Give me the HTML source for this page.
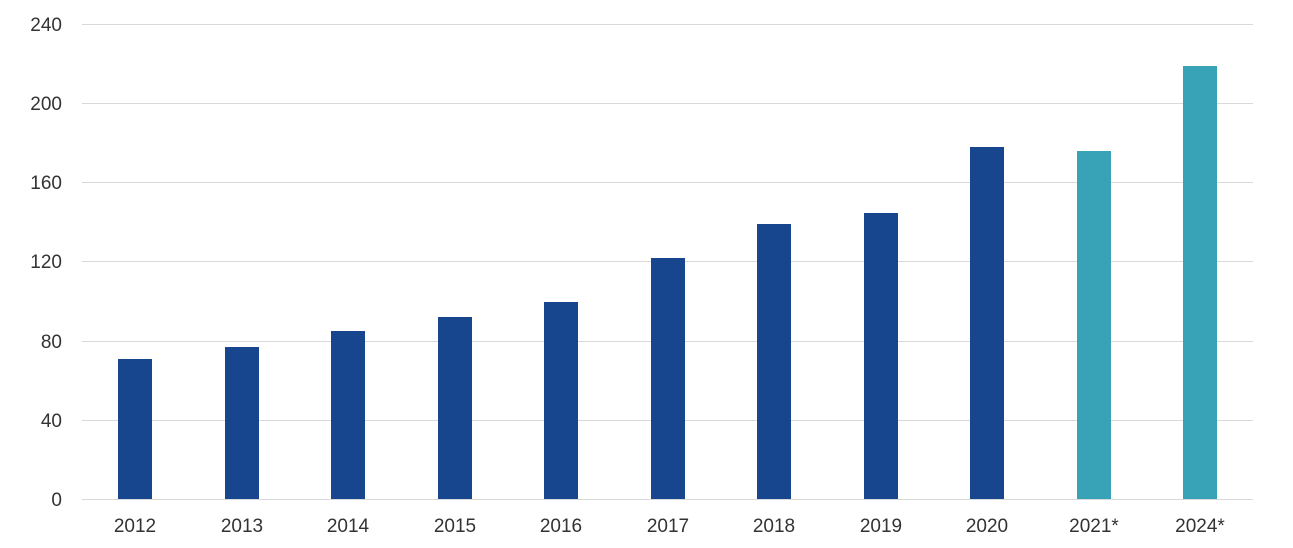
<!DOCTYPE html>
<html><head><style>
body{margin:0;background:#fff;}
svg text{font-family:"Liberation Sans",Arial,sans-serif;font-size:19px;fill:#333;}
</style></head><body>
<svg width="1293" height="543" xmlns="http://www.w3.org/2000/svg">
<g stroke="#d9d9d9" stroke-width="1">
<line x1="82" x2="1253" y1="24.5" y2="24.5"/>
<line x1="82" x2="1253" y1="103.5" y2="103.5"/>
<line x1="82" x2="1253" y1="182.5" y2="182.5"/>
<line x1="82" x2="1253" y1="261.5" y2="261.5"/>
<line x1="82" x2="1253" y1="341.5" y2="341.5"/>
<line x1="82" x2="1253" y1="420.5" y2="420.5"/>
<line x1="82" x2="1253" y1="499.5" y2="499.5"/>
</g>
<g text-anchor="end">
<text x="62" y="31">240</text>
<text x="62" y="110">200</text>
<text x="62" y="189">160</text>
<text x="62" y="268">120</text>
<text x="62" y="348">80</text>
<text x="62" y="427">40</text>
<text x="62" y="506">0</text>
</g>
<g fill="#17468f">
<rect x="118" y="359" width="34" height="140"/>
<rect x="225" y="347" width="34" height="152"/>
<rect x="331" y="331" width="34" height="168"/>
<rect x="438" y="317" width="34" height="182"/>
<rect x="544" y="302" width="34" height="197"/>
<rect x="651" y="258" width="34" height="241"/>
<rect x="757" y="224" width="34" height="275"/>
<rect x="864" y="213" width="34" height="286"/>
<rect x="970" y="147" width="34" height="352"/>
</g>
<g fill="#38a3b6">
<rect x="1077" y="151" width="34" height="348"/>
<rect x="1183" y="66" width="34" height="433"/>
</g>
<g text-anchor="middle">
<text x="135" y="532">2012</text>
<text x="242" y="532">2013</text>
<text x="348" y="532">2014</text>
<text x="455" y="532">2015</text>
<text x="561" y="532">2016</text>
<text x="668" y="532">2017</text>
<text x="774" y="532">2018</text>
<text x="881" y="532">2019</text>
<text x="987" y="532">2020</text>
<text x="1094" y="532">2021*</text>
<text x="1200" y="532">2024*</text>
</g>
</svg>
</body></html>
